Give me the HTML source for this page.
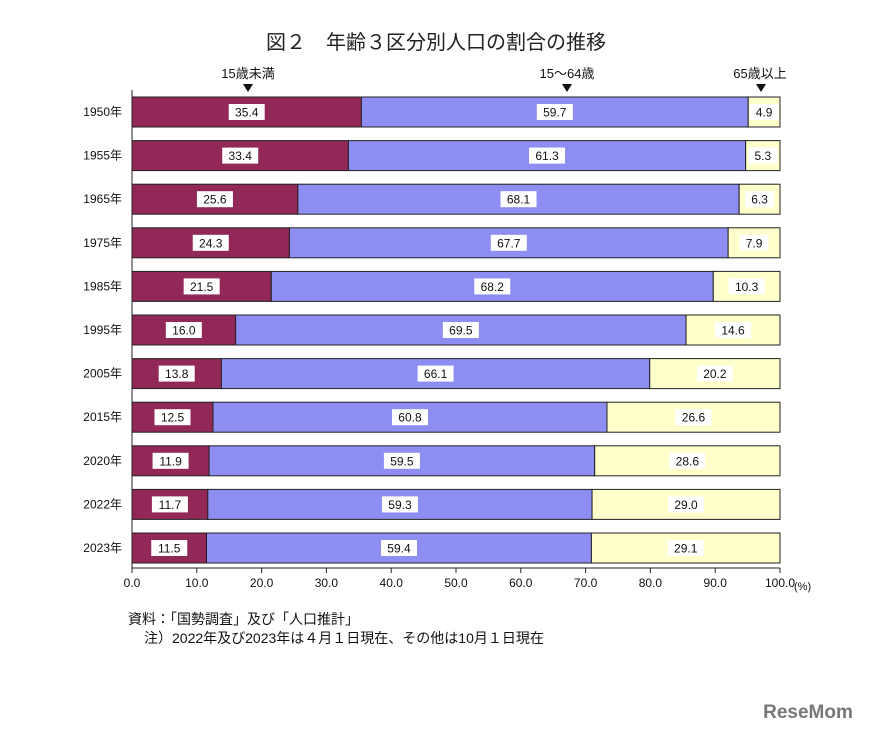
<!DOCTYPE html>
<html><head><meta charset="utf-8"><style>
body{margin:0;background:#fff}
svg text{font-family:"Liberation Sans","Noto Sans CJK JP",sans-serif}
</style></head><body>
<svg id="s" width="872" height="731" xmlns="http://www.w3.org/2000/svg">
<text x="436" y="49" font-size="20" text-anchor="middle" fill="#222">図２　年齢３区分別人口の割合の推移</text>
<text x="248" y="78" font-size="13" text-anchor="middle" fill="#111">15歳未満</text>
<text x="567" y="78" font-size="13" text-anchor="middle" fill="#111">15～64歳</text>
<text x="760" y="78" font-size="13" text-anchor="middle" fill="#111">65歳以上</text>
<polygon points="243,84 253,84 248,92" fill="#111"/>
<polygon points="562,84 572,84 567,92" fill="#111"/>
<polygon points="756,84 766,84 761,92" fill="#111"/>
<g id="g"></g>
<text x="128" y="624" font-size="14" fill="#111">資料：「国勢調査」及び「人口推計」</text>
<text x="144" y="643" font-size="14" fill="#111">注）2022年及び2023年は４月１日現在、その他は10月１日現在</text>
<text x="808" y="718" font-size="19" font-weight="bold" fill="#777" text-anchor="middle">ReseMom</text>
</svg>
<script>
var d=[["1950",35.4,59.7,4.9],["1955",33.4,61.3,5.3],["1965",25.6,68.1,6.3],["1975",24.3,67.7,7.9],["1985",21.5,68.2,10.3],["1995",16.0,69.5,14.6],["2005",13.8,66.1,20.2],["2015",12.5,60.8,26.6],["2020",11.9,59.5,28.6],["2022",11.7,59.3,29.0],["2023",11.5,59.4,29.1]];
var x0=132,sc=6.48,h="";
function lab(cx,cy,t){var w=t.length*7+8;h+='<rect x="'+(cx-w/2)+'" y="'+(cy-8)+'" width="'+w+'" height="16" fill="#fff"/><text x="'+cx+'" y="'+(cy+4.5)+'" font-size="12" text-anchor="middle" fill="#111">'+t+'</text>';}
d.forEach(function(r,i){var y=97+i*43.6,a=r[1]*sc,b=r[2]*sc;
h+='<rect x="'+x0+'" y="'+y+'" width="'+a+'" height="30" fill="#922858" stroke="#222" stroke-width="1"/>';
h+='<rect x="'+(x0+a)+'" y="'+y+'" width="'+b+'" height="30" fill="#8e8ef2" stroke="#222" stroke-width="1"/>';
h+='<rect x="'+(x0+a+b)+'" y="'+y+'" width="'+(648-a-b)+'" height="30" fill="#ffffcc" stroke="#222" stroke-width="1"/>';
var cy=y+15;lab(x0+a/2,cy,r[1].toFixed(1));lab(x0+a+b/2,cy,r[2].toFixed(1));lab(x0+a+b+(648-a-b)/2,cy,r[3].toFixed(1));
h+='<text x="122" y="'+(cy+4)+'" font-size="12" text-anchor="end" fill="#111">'+r[0]+'年</text>';});
h+='<line x1="'+x0+'" y1="90" x2="'+x0+'" y2="568" stroke="#222"/><line x1="'+x0+'" y1="568" x2="780" y2="568" stroke="#222"/>';
for(var k=0;k<=10;k++){var x=x0+k*64.8;h+='<line x1="'+x+'" y1="568" x2="'+x+'" y2="573" stroke="#222"/><text x="'+x+'" y="587" font-size="12" text-anchor="middle" fill="#111">'+(k*10).toFixed(1)+'</text>';}
h+='<text x="794" y="590" font-size="11" fill="#111">(%)</text>';
document.getElementById("g").innerHTML=h;
</script>
</body></html>
